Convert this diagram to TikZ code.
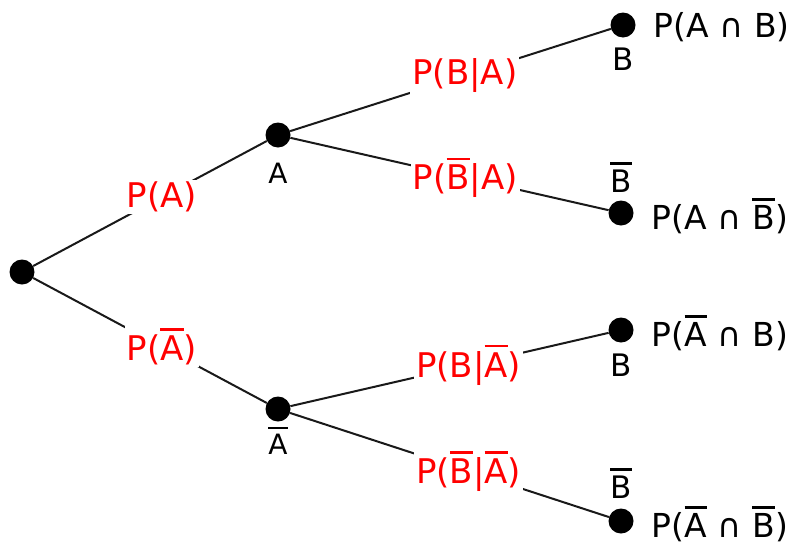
\documentclass[tikz,border=0pt]{standalone}
\usepackage{fontspec}
\setmainfont{DejaVu Sans}
\usetikzlibrary{positioning}
\newcommand{\nbar}[1]{\leavevmode\vbox{\hrule height 2.4pt\kern 5pt\hbox{#1}}}
\tikzset{
    dot/.style={circle, fill=black, inner sep=0pt, minimum size=25pt},
    edge/.style={draw=black!90, line width=2pt},
    prob/.style={text=red, fill=white, inner sep=2pt, font=\fontsize{34}{40}\selectfont},
    ev/.style={inner sep=0pt, font=\fontsize{31}{36}\selectfont},
    res/.style={inner sep=0pt, font=\fontsize{33}{40}\selectfont}
}
\begin{document}
\begin{tikzpicture}[x=1pt, y=-1pt]
    \useasboundingbox (0,0) rectangle (806,544);
    % knots
    \node[dot] (root) at (22,272) {};
    \node[dot] (a)    at (278,135) {};
    \node[dot] (abar) at (278,409) {};
    \node[dot] (ab)   at (623,25) {};
    \node[dot] (anb)  at (621,213) {};
    \node[dot] (nab)  at (621,330) {};
    \node[dot] (nanb) at (621,521) {};
    % branches
    \draw[edge] (root) -- node[prob, pos=0.55] {P(A)} (a);
    \draw[edge] (root) -- node[prob, pos=0.55] {P(\nbar{A})} (abar);
    \draw[edge] (a) -- node[prob, pos=0.545] {P(B|A)} (ab);
    \draw[edge] (a) -- node[prob, pos=0.55] {P(\nbar{B}|A)} (anb);
    \draw[edge] (abar) -- node[prob, pos=0.56] {P(B|\nbar{A})} (nab);
    \draw[edge] (abar) -- node[prob, pos=0.56] {P(\nbar{B}|\nbar{A})} (nanb);
    % events
    \node[ev, font=\fontsize{28}{32}\selectfont, below=15pt of a] (la) {A};
    \node[ev, font=\fontsize{28}{32}\selectfont, below=5pt of abar] (labar) {\nbar{A}};
    \node[ev, below=10pt of ab] (lb1) {B};
    \node[ev, above=8pt of anb] (lb2) {\nbar{B}};
    \node[ev, below=11pt of nab] (lb3) {B};
    \node[ev, above=10pt of nanb] (lb4) {\nbar{B}};
    % results
    \node[res, right=18pt of ab, yshift=-2pt] (pab) {P(A ∩ B)};
    \node[res, right=18pt of anb, yshift=-3pt] (panb) {P(A ∩ \nbar{B})};
    \node[res, right=18pt of nab, yshift=-3pt] (pnab) {P(\nbar{A} ∩ B)};
    \node[res, right=18pt of nanb, yshift=-3pt] (pnanb) {P(\nbar{A} ∩ \nbar{B})};
\end{tikzpicture}
\end{document}
